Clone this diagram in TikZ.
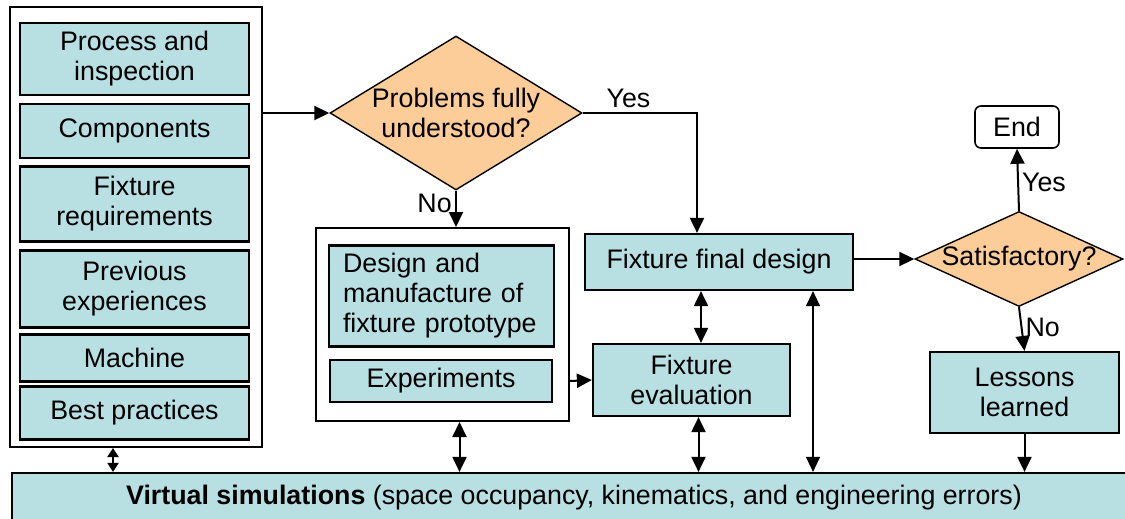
\documentclass[tikz,border=0pt]{standalone}
\usepackage{fontspec}
\setmainfont{Liberation Sans}
\setsansfont{Liberation Sans}
\usetikzlibrary{shapes.geometric,arrows.meta}

\definecolor{boxfill}{RGB}{184,223,226}
\definecolor{askfill}{RGB}{252,204,153}

\newcommand{\inputfield}[4]{
	\node[field, minimum width=229, minimum height=#3] (#1) at (134.5, #2) {#4};
}

\begin{document}
\begin{tikzpicture}[x=1pt,y=-1pt,>={Triangle[length=15pt,width=14pt]},font=\sffamily\fontsize{26.8}{30}\selectfont,line width=2pt,
		field/.style={draw,line width=2.2pt,fill=boxfill,align=center,inner sep=0pt},
		ask/.style={draw,line width=1.4pt,fill=askfill,diamond,inner sep=0pt},
		frame/.style={draw,line width=2pt,inner sep=0pt}]
				\useasboundingbox (0,0) rectangle (1125,519);
				\node[frame, minimum width=252, minimum height=440] (inputs) at (136,227) {};
				\inputfield{proc}{59}{72}{Process and\\inspection}
				\inputfield{comp}{131}{54}{Components}
				\inputfield{req}{204}{75}{Fixture\\requirements}
				\inputfield{prev}{289}{77}{Previous\\experiences}
				\inputfield{mach}{358}{47}{Machine}
				\inputfield{best}{413}{53}{Best practices}

				\node[ask, minimum width=252, minimum height=154, label={[align=center]center:Problems fully\\understood?}] (probs) at (456,113) {};
				\node[frame, minimum width=253, minimum height=193] (design) at (442.5,324.5) {};
				\node[field, minimum width=225, minimum height=101, text width=197, align=left, inner xsep=14pt] (proto) at (441.5,296) {Design and\\manufacture of\\fixture prototype};
				\node[field, minimum width=222, minimum height=42] (exper) at (441,381) {Experiments};
				\node[field, minimum width=268, minimum height=56] (final) at (719,262) {Fixture final design};
				\node[field, minimum width=197, minimum height=72] (eval) at (691.5,380) {Fixture\\evaluation};
				\node[ask, minimum width=208, minimum height=95, label={center:Satisfactory?}] (sat) at (1019,259) {};
				\node[draw, rounded corners=6pt, line width=1.6pt, minimum width=84, minimum height=42, inner sep=0pt] (end) at (1017,127) {End};
				\node[field, minimum width=189, minimum height=81] (lessons) at (1024.5,392.5) {Lessons\\learned};
				\node[field, minimum width=1124, minimum height=50] (virt) at (574,498) {\textbf{Virtual simulations} (space occupancy, kinematics, and engineering errors)};

				\draw[->] (inputs.east |- probs.west) -- (probs.west);
				\draw[->] (probs.east) -| node[pos=0.2, above, inner sep=4pt]{Yes} ([xshift=-22pt]final.north);
				\draw[->] (probs.south) -- node[pos=0.34, left]{No} (probs.south |- design.north);
				\draw[->] (design.east |- exper) -- (eval.west);
				\draw[<->] ([xshift=-18pt]final.south) -- ([xshift=-18pt]final.south |- eval.north);
				\draw[<->] ([xshift=7pt]eval.south) -- ([xshift=7pt]eval.south |- virt.north);
				\draw[<->] ([xshift=17pt]design.south) -- ([xshift=17pt]design.south |- virt.north);
				\draw[<->, line width=1.3pt] ([xshift=94pt]final.south) -- ([xshift=94pt]final.south |- virt.north);
				\draw[<->, >={Triangle[length=9pt,width=11pt]}] ([xshift=-23pt]inputs.south) -- ([xshift=-23pt]inputs.south |- virt.north);
				\draw[->] (final.east |- sat.west) -- (sat.west);
				\draw[->] (sat.north) -- node[pos=0.45, right, inner sep=3pt]{Yes} (end.south);
				\draw[->] (sat.south) -- node[pos=0.47, right, inner sep=3pt]{No} (lessons.north);
				\draw[->] (lessons.south) -- (lessons.south |- virt.north);
			\end{tikzpicture}
\end{document}
